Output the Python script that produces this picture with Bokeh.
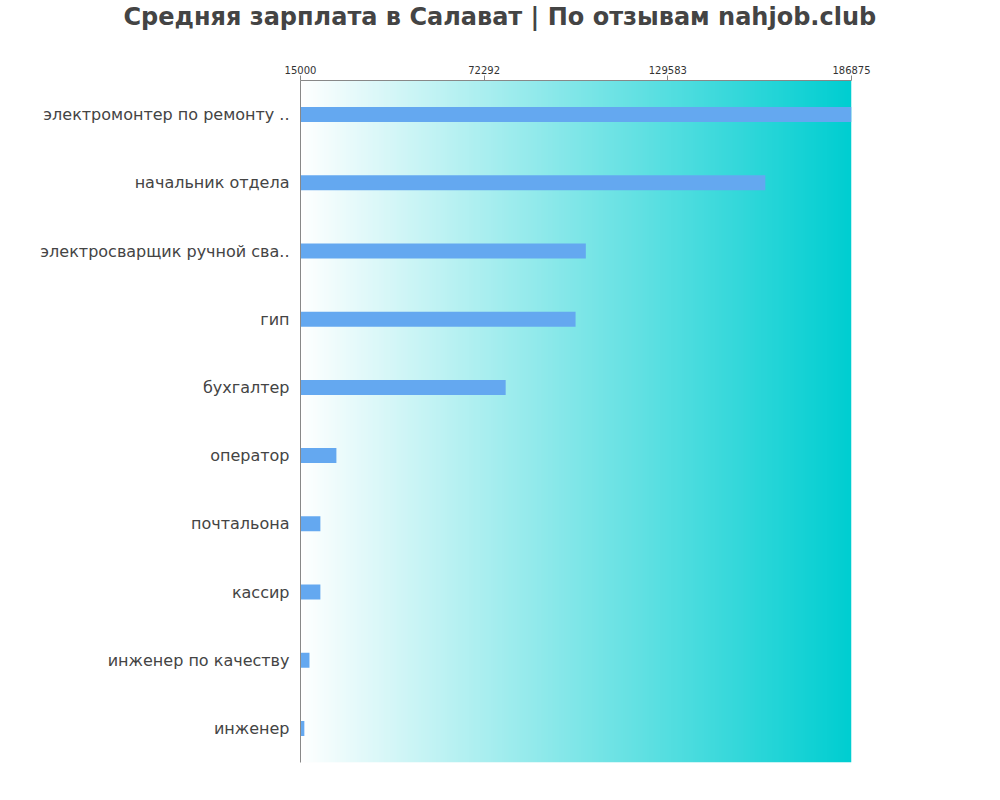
import numpy as np
from bokeh.plotting import figure
from bokeh.layouts import column
from bokeh.models import FixedTicker, Range1d, FactorRange, Title, PrintfTickFormatter
from bokeh.embed import file_html
from bokeh.resources import INLINE

title_text = "Средняя зарплата в Салават | По отзывам nahjob.club"
categories = [
    "электромонтер по ремонту ..",
    "начальник отдела",
    "электросварщик ручной сва..",
    "гип",
    "бухгалтер",
    "оператор",
    "почтальона",
    "кассир",
    "инженер по качеству",
    "инженер",
]
salaries = [186875, 160000, 104000, 100800, 79000, 26200, 21200, 21200, 17800, 16200]
tick_values = [15000, 72292, 129583, 186875]
x_min, x_max = 15000, 186875

factors = list(reversed(categories))

TITLE_H = 34

# title strip (a tiny figure whose title annotation carries the chart title)
t_fig = figure(
    width=960, height=TITLE_H,
    x_range=Range1d(0, 1), y_range=Range1d(0, 1),
    x_axis_location=None, y_axis_location=None,
    min_border=0, output_backend="svg", toolbar_location=None,
    outline_line_color=None, background_fill_color="white",
    border_fill_color="white",
)
t_fig.xgrid.grid_line_color = None
t_fig.ygrid.grid_line_color = None
t_fig.title = Title(text=title_text, text_font_size="24px", text_font="DejaVu Sans",
                    text_font_style="bold", text_color="#444444", align="left",
                    vertical_align="top", offset=-177, standoff=4)

p = figure(
    y_range=FactorRange(*factors, range_padding=0),
    x_range=Range1d(x_min, x_max),
    x_axis_location="above",
    frame_width=551, frame_height=682,
    min_border_left=300, min_border_right=109,
    min_border_top=80 - TITLE_H, min_border_bottom=30,
    output_backend="svg", toolbar_location=None,
    background_fill_color="white", border_fill_color="white",
    outline_line_color=None,
)

# gradient background
ncols = 300
t = np.linspace(0, 1, ncols)
r = 255 * (1 - t)
g = 255 - (255 - 206) * t
b = 255 - (255 - 209) * t
img = np.zeros((2, ncols), dtype=np.uint32)
view = img.view(dtype=np.uint8).reshape((2, ncols, 4))
for row in range(2):
    view[row, :, 0] = r.astype(np.uint8)
    view[row, :, 1] = g.astype(np.uint8)
    view[row, :, 2] = b.astype(np.uint8)
    view[row, :, 3] = 255
p.image_rgba(image=[img], x=x_min, y=0, dw=x_max - x_min, dh=len(factors))

p.hbar(y=categories, left=x_min, right=salaries, height=0.22,
       fill_color="#64a8f0", line_color=None)

p.xaxis.ticker = FixedTicker(ticks=tick_values)
p.xaxis.formatter = PrintfTickFormatter(format="%d")
p.xaxis.major_label_text_font_size = "10px"
p.xaxis.major_label_text_color = "#333333"
p.xaxis.major_label_text_font = "DejaVu Sans"
p.xaxis.axis_line_color = "#888888"
p.xaxis.major_tick_line_color = "#888888"
p.xaxis.major_tick_out = 5
p.xaxis.major_tick_in = 0
p.xaxis.minor_tick_line_color = None
p.xaxis.major_label_standoff = 2

p.yaxis.major_label_text_font_size = "16px"
p.yaxis.major_label_text_color = "#444444"
p.yaxis.major_label_text_font = "DejaVu Sans"
p.yaxis.axis_line_color = "#888888"
p.yaxis.major_tick_line_color = None
p.yaxis.major_tick_out = 0
p.yaxis.major_tick_in = 0
p.yaxis.minor_tick_line_color = None
p.yaxis.major_label_standoff = 11

p.xgrid.grid_line_color = None
p.ygrid.grid_line_color = None

layout = column(t_fig, p, spacing=0)

open("out.html", "w").write(file_html(layout, INLINE))
